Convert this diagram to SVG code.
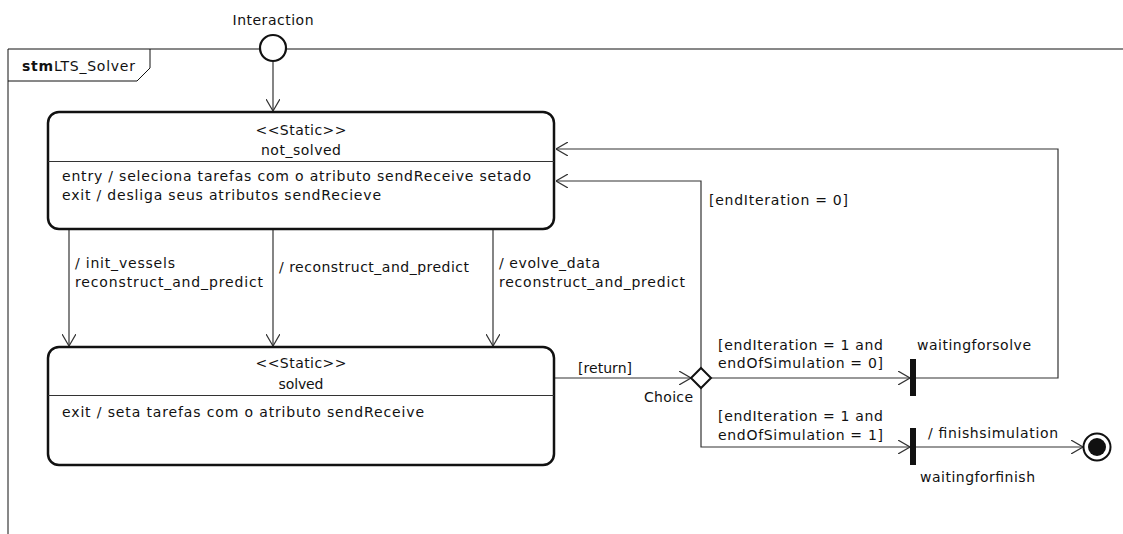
<svg xmlns="http://www.w3.org/2000/svg" width="1123" height="534" viewBox="0 0 1123 534">
<style>
text { font-family: "DejaVu Sans", "Liberation Sans", sans-serif; font-size: 14px; fill: #111; }
.c { text-anchor: middle; }
.b { font-weight: bold; }
.frame { fill: none; stroke: #111; stroke-width: 1; }
.state { fill: #fff; stroke: #111; stroke-width: 2.5; }
.div { stroke: #333; stroke-width: 1; }
.conn { fill: none; stroke: #333; stroke-width: 1.2; marker-end: url(#arr); }
</style>
<defs>
<marker id="arr" viewBox="0 0 12 14" refX="12" refY="7" markerWidth="12" markerHeight="14" markerUnits="userSpaceOnUse" orient="auto">
<path d="M0,0 L12,7 L0,14" fill="none" stroke="#333" stroke-width="1.2"/>
</marker>
</defs>
<rect width="1123" height="534" fill="#fff"/>
<g id="frame">
<path class="frame" d="M8,534 V49 H1123"/>
<path class="frame" d="M8,81 H137 L150,68 V49"/>
<text x="22" y="71" textLength="113"><tspan class="b">stm</tspan><tspan>LTS_Solver</tspan></text>
</g>
<g id="connectors">
<path class="conn" d="M273,62 V111"/>
<path class="conn" d="M69,229 V346"/>
<path class="conn" d="M273,229 V346"/>
<path class="conn" d="M493,229 V346"/>
<path class="conn" d="M555,378 H691"/>
<path class="conn" d="M711,378 H910"/>
<path class="conn" d="M916,378 H1058 V149 H556"/>
<path class="conn" d="M701,368 V181 H556"/>
<path class="conn" d="M701,388 V447 H910"/>
<path class="conn" d="M916,447 H1083"/>
<text x="75" y="267.5" textLength="100">/ init_vessels</text>
<text x="75" y="286.5" textLength="188">reconstruct_and_predict</text>
<text x="279" y="271.5" textLength="190">/ reconstruct_and_predict</text>
<text x="499" y="268" textLength="101">/ evolve_data</text>
<text x="499" y="286.5" textLength="186">reconstruct_and_predict</text>
<text x="578" y="373" textLength="54">[return]</text>
<text x="709" y="205" textLength="139">[endIteration = 0]</text>
<text x="718" y="350" textLength="165">[endIteration = 1 and</text>
<text x="718" y="368" textLength="165">endOfSimulation = 0]</text>
<text x="718" y="421" textLength="165">[endIteration = 1 and</text>
<text x="718" y="440" textLength="165">endOfSimulation = 1]</text>
<text x="928" y="438" textLength="130">/ finishsimulation</text>
</g>
<g id="interaction">
<circle cx="273" cy="48" r="13" fill="#fff" stroke="#111" stroke-width="2.2"/>
<text class="c" x="273" y="24.5" textLength="81">Interaction</text>
</g>
<g id="not_solved">
<rect class="state" x="48" y="112" width="506" height="117" rx="11" ry="11"/>
<line class="div" x1="48" y1="161.5" x2="554" y2="161.5"/>
<text class="c" x="301" y="135" textLength="91">&lt;&lt;Static&gt;&gt;</text>
<text class="c" x="301" y="154.5" textLength="80">not_solved</text>
<text x="62" y="181" textLength="469">entry / seleciona tarefas com o atributo sendReceive setado</text>
<text x="62" y="200" textLength="319">exit / desliga seus atributos sendRecieve</text>
</g>
<g id="solved">
<rect class="state" x="48" y="347" width="506" height="118" rx="11" ry="11"/>
<line class="div" x1="48" y1="395.5" x2="554" y2="395.5"/>
<text class="c" x="301" y="367.5" textLength="91">&lt;&lt;Static&gt;&gt;</text>
<text class="c" x="301" y="388.5" textLength="45">solved</text>
<text x="62" y="416.5" textLength="362">exit / seta tarefas com o atributo sendReceive</text>
</g>
<g id="choice">
<path d="M701,368 L711,378 L701,388 L691,378 Z" fill="#fff" stroke="#111" stroke-width="2"/>
<text x="644" y="402" textLength="49">Choice</text>
</g>
<g id="waitingforsolve">
<rect x="910" y="359" width="6" height="37" fill="#111"/>
<text x="917" y="350" textLength="114">waitingforsolve</text>
</g>
<g id="waitingforfinish">
<rect x="910" y="428" width="6" height="37" fill="#111"/>
<text x="920" y="482" textLength="115">waitingforfinish</text>
</g>
<g id="final">
<circle cx="1097" cy="447" r="13.5" fill="#fff" stroke="#111" stroke-width="2"/>
<circle cx="1097" cy="447" r="9" fill="#111"/>
</g>
</svg>
